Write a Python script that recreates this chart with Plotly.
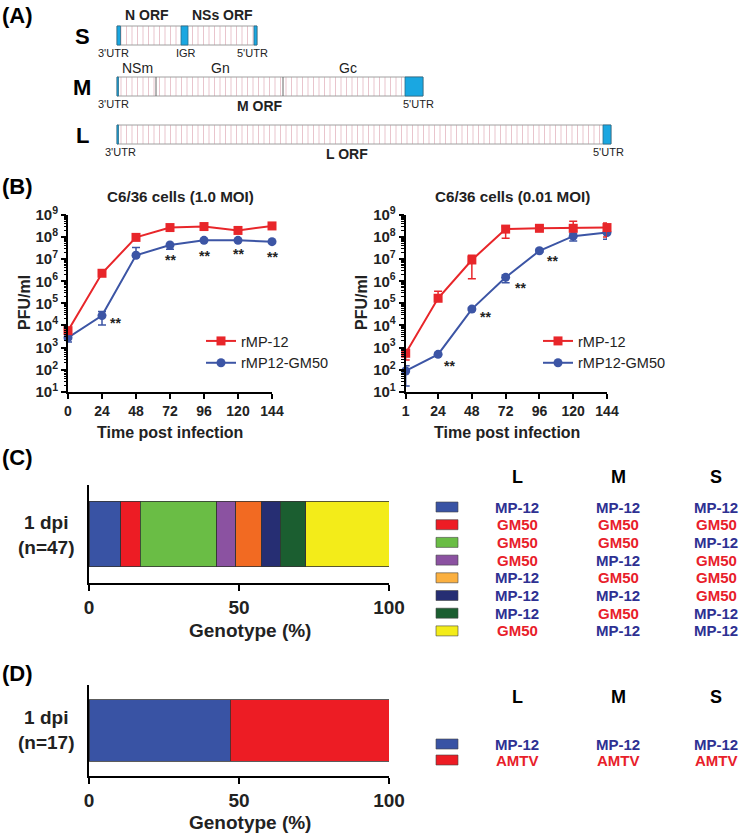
import numpy as np
import plotly.graph_objects as go

W, H = 739, 834
FONT = "Arial, 'Liberation Sans', Helvetica, sans-serif"

# ---------------- Panel A: genome schematic (schematic length units) ----------------
seg_names = ["S", "M", "L"]
seg_len = [140, 306, 494]
utr_seg = [0, 0, 0, 1, 1, 2, 2]
utr_start = [0, 64, 137, 0, 288, 0, 486]
utr_end = [3.5, 71, 140, 1.5, 306, 1.5, 494]
m_div = [39, 166]
top_labels = ["N ORF", "NSs ORF", "NSm", "Gn", "Gc"]
top_seg = [0, 0, 1, 1, 1]
top_pos = [30, 105, 20, 103, 231]
top_bold = [True, True, False, False, False]
bot_labels = ["3'UTR", "IGR", "5'UTR", "3'UTR", "M ORF", "5'UTR", "3'UTR", "L ORF", "5'UTR"]
bot_seg = [0, 0, 0, 1, 1, 1, 2, 2, 2]
bot_pos = [-4, 68.5, 135, -4, 143, 301, 3, 230, 491]
bot_bold = [False, False, False, False, True, False, False, True, False]

# ---------------- Panel B: growth curves ----------------
time_1 = [0, 24, 48, 72, 96, 120, 144]
mp12_1 = [5.8e3, 2.3e6, 9.7e7, 2.7e8, 3.0e8, 2.0e8, 3.2e8]
mp12_1_hi = [7.0e3, 2.6e6, 1.1e8, 3.1e8, 3.4e8, 2.3e8, 3.6e8]
mp12_1_lo = [4.6e3, 2.0e6, 8.5e7, 2.4e8, 2.7e8, 1.8e8, 2.9e8]
gm50_1 = [2.8e3, 2.8e4, 1.5e7, 4.4e7, 7.1e7, 7.1e7, 6.2e7]
gm50_1_hi = [3.4e3, 4.3e4, 3.4e7, 5.0e7, 7.8e7, 7.8e7, 6.8e7]
gm50_1_lo = [1.8e3, 1.05e4, 1.3e7, 2.8e7, 6.5e7, 6.5e7, 5.6e7]

time_2 = [1, 24, 48, 72, 96, 120, 144]
mp12_2 = [5.5e2, 1.7e5, 9.2e6, 2.3e8, 2.5e8, 2.5e8, 2.7e8]
mp12_2_hi = [7.0e2, 3.5e5, 1.5e7, 2.9e8, 2.9e8, 5.2e8, 4.3e8]
mp12_2_lo = [2.7e2, 1.3e5, 1.3e6, 8.8e7, 2.2e8, 1.9e8, 1.0e8]
gm50_2 = [87, 4.9e2, 5.5e4, 1.5e6, 2.4e7, 1.1e8, 1.6e8]
gm50_2_hi = [1.5e2, 5.5e2, 6.5e4, 1.9e6, 2.8e7, 1.5e8, 2.3e8]
gm50_2_lo = [18, 4.3e2, 4.7e4, 8.5e5, 2.1e7, 6.6e7, 8.0e7]

sig1_idx = [1, 3, 4, 5, 6]
sig2_idx = [1, 2, 3, 4]

y_tickvals = [10 ** k for k in range(1, 10)]
y_ticktext = ["10<sup>%d</sup>" % k for k in range(1, 10)]

# ---------------- Panel C / D: genotype composition ----------------
c_pct = [10.6, 6.4, 25.5, 6.4, 8.5, 6.4, 8.5, 27.7]
c_bar_colors = ["#3953a4", "#ed1c24", "#6abd45", "#8b52a1", "#f26a22", "#262e73", "#1b5e30", "#f3ec19"]
c_key_colors = ["#3953a4", "#ed1c24", "#6abd45", "#8b52a1", "#fbb040", "#262e73", "#1b5e30", "#f3ec19"]
c_L = ["MP-12", "GM50", "GM50", "GM50", "MP-12", "MP-12", "MP-12", "GM50"]
c_M = ["MP-12", "GM50", "GM50", "MP-12", "GM50", "MP-12", "GM50", "MP-12"]
c_S = ["MP-12", "GM50", "MP-12", "GM50", "GM50", "GM50", "MP-12", "MP-12"]

d_pct = [47.1, 52.9]
d_colors = ["#3953a4", "#ed1c24"]
d_L = ["MP-12", "AMTV"]
d_M = ["MP-12", "AMTV"]
d_S = ["MP-12", "AMTV"]

genotype_text_color = {"MP-12": "#2e3192", "GM50": "#e8202a", "AMTV": "#e8202a"}


def px(x):
    return x / W


def py(y):
    return 1 - y / H


RED = "#e8262a"
BLUE = "#3c55a5"
TXT = "#222222"

fig = go.Figure()
shapes = []
ann = []


def note(text, x, y, size, bold=True, color=TXT, xref="paper", yref="paper", **kw):
    d = dict(text=text, x=x, y=y, xref=xref, yref=yref, showarrow=False,
             xanchor=kw.pop("xanchor", "center"), yanchor=kw.pop("yanchor", "middle"),
             font=dict(size=size, family=FONT, color=color, weight="bold" if bold else "normal"))
    d.update(kw)
    ann.append(d)


# ---- Panel A drawing ----
seg_top = [26, 77, 125]
box_h = 19
hx, hy = [], []
for i, L in enumerate(seg_len):
    t = seg_top[i]
    for xv in np.arange(4, L, 5.5):
        hx += [xv, xv, None]
        hy += [t, t + box_h, None]
fig.add_trace(go.Scatter(x=hx, y=hy, mode="lines", line=dict(color="rgba(200,110,130,0.5)", width=0.8),
                         hoverinfo="skip", showlegend=False, xaxis="x", yaxis="y"))
for i, L in enumerate(seg_len):
    t = seg_top[i]
    shapes.append(dict(type="rect", xref="x", yref="y", x0=0, x1=L, y0=t, y1=t + box_h,
                       line=dict(color="#a0a0a0", width=1)))
    note(seg_names[i], -35, t + box_h / 2 + 1, 22, True, "black", "x", "y")
for d in m_div:
    t = seg_top[1]
    shapes.append(dict(type="line", xref="x", yref="y", x0=d, x1=d, y0=t, y1=t + box_h,
                       line=dict(color="#666666", width=1)))
for s, a, b in zip(utr_seg, utr_start, utr_end):
    t = seg_top[s]
    shapes.append(dict(type="rect", xref="x", yref="y", x0=a, x1=b, y0=t, y1=t + box_h,
                       fillcolor="#1aa7e1", line=dict(color="#2a6d8a", width=0.8)))
top_label_y = [15, 68, 0]
for lab, s, p, b in zip(top_labels, top_seg, top_pos, top_bold):
    note(lab, p, top_label_y[s], 14, b, TXT, "x", "y")
for lab, s, p, b in zip(bot_labels, bot_seg, bot_pos, bot_bold):
    yy = seg_top[s] + box_h + (10 if b else 8)
    note(lab, p, yy, 14 if b else 11, b, TXT, "x", "y")


# ---- Panel B ----
def series(t, y, hi, lo, color, symbol, name, xa, ya, leg, rank):
    return go.Scatter(
        x=t, y=y, mode="lines+markers", name=name, legendrank=rank,
        line=dict(color=color, width=2), marker=dict(color=color, symbol=symbol, size=9),
        error_y=dict(type="data", symmetric=False, array=[h - v for h, v in zip(hi, y)],
                     arrayminus=[v - l for v, l in zip(y, lo)], color=color, thickness=1.5, width=4),
        xaxis=xa, yaxis=ya, legend=leg, cliponaxis=False)


fig.add_trace(series(time_1, gm50_1, gm50_1_hi, gm50_1_lo, BLUE, "circle", "rMP12-GM50", "x2", "y2", "legend", 2))
fig.add_trace(series(time_1, mp12_1, mp12_1_hi, mp12_1_lo, RED, "square", "rMP-12", "x2", "y2", "legend", 1))
fig.add_trace(series(time_2, gm50_2, gm50_2_hi, gm50_2_lo, BLUE, "circle", "rMP12-GM50", "x3", "y3", "legend2", 2))
fig.add_trace(series(time_2, mp12_2, mp12_2_hi, mp12_2_lo, RED, "square", "rMP-12", "x3", "y3", "legend2", 1))

sig1_dx = [13, 0, 0, 0, 0]
sig1_dy = [-7, -15, -16, -14, -15]
for i, dx, dy in zip(sig1_idx, sig1_dx, sig1_dy):
    note("**", time_1[i], np.log10(gm50_1[i]), 14, True, TXT, "x2", "y2", xshift=dx, yshift=dy)
sig2_dx = [11, 14, 15, 13]
sig2_dy = [-12, -8, -11, -10]
for i, dx, dy in zip(sig2_idx, sig2_dx, sig2_dy):
    note("**", time_2[i], np.log10(gm50_2[i]), 14, True, TXT, "x3", "y3", xshift=dx, yshift=dy)

for cx, title in [(180, "C6/36 cells (1.0 MOI)"), (512, "C6/36 cells (0.01 MOI)")]:
    note(title, px(cx), py(197), 15.2)
for cx in [25, 362]:
    note("PFU/ml", px(cx), py(303), 16, textangle=-90)
for cx in [170, 507]:
    note("Time post infection", px(cx), py(432), 16)

# ---- Panel C / D bars ----
for v, c in zip(c_pct, c_bar_colors):
    fig.add_trace(go.Bar(x=[v], y=[0], orientation="h", width=0.673, showlegend=False,
                         marker=dict(color=c, line=dict(color="#333", width=0.8)), xaxis="x4", yaxis="y4"))
for v, c in zip(d_pct, d_colors):
    fig.add_trace(go.Bar(x=[v], y=[0], orientation="h", width=0.68, showlegend=False,
                         marker=dict(color=c, line=dict(color="#333", width=0.8)), xaxis="x5", yaxis="y5"))

for ycen, n in [(535, "(n=47)"), (730, "(n=17)")]:
    note("1 dpi<br>" + n, px(46), py(ycen), 19, align="center")
for yy in [630, 822]:
    note("Genotype (%)", px(250), py(yy), 19)

col_x = [517, 618, 716]


def key_table(header_y, row_y0, row_dy, colors, Ls, Ms, Ss):
    for lab, cx in zip(["L", "M", "S"], col_x):
        note(lab, px(cx), py(header_y), 18, True, "black")
    for r, c in enumerate(colors):
        yy = row_y0 + r * row_dy
        shapes.append(dict(type="rect", xref="paper", yref="paper", x0=px(436), x1=px(458),
                           y0=py(yy - 5), y1=py(yy + 5), fillcolor=c, line=dict(color="#444", width=0.6)))
        for vals, cx in zip([Ls, Ms, Ss], col_x):
            g = vals[r]
            note(g, px(cx), py(yy), 15, True, genotype_text_color[g])


key_table(477, 507, 17.7, c_key_colors, c_L, c_M, c_S)
key_table(697, 744, 16, d_colors, d_L, d_M, d_S)

for lab, yy in zip(["(A)", "(B)", "(C)", "(D)"], [15, 187, 457, 673]):
    note(lab, px(0), py(yy), 22, True, "black", xanchor="left")

axis_common = dict(showline=True, linecolor="black", linewidth=2, ticks="outside", tickcolor="black",
                   tickwidth=2, showgrid=False, zeroline=False, fixedrange=True, automargin=False)
tick14 = dict(size=14, family=FONT, color=TXT, weight="bold")
tick19 = dict(size=19, family=FONT, color=TXT, weight="bold")
tick15 = dict(size=15, family=FONT, color=TXT, weight="bold")
minor_vals = [m * 10 ** k for k in range(1, 9) for m in range(2, 10)]
ylog = dict(axis_common, type="log", range=[1, 9], tickvals=y_tickvals, ticktext=y_ticktext, ticklen=5,
            tickfont=tick15, minor=dict(tickvals=minor_vals, ticks="outside", ticklen=2.5, tickwidth=1,
                                        tickcolor="black"))
yB = [py(391.7), py(215)]

legend_common = dict(bgcolor="rgba(0,0,0,0)", font=dict(size=14.5, family=FONT, color=TXT),
                     xanchor="left", yanchor="top", tracegroupgap=0, itemwidth=30, traceorder="normal")

fig.update_layout(
    width=W, height=H, margin=dict(l=0, r=0, t=0, b=0, pad=0, autoexpand=False), autosize=False,
    paper_bgcolor="white", plot_bgcolor="rgba(0,0,0,0)", barmode="stack",
    font=dict(family=FONT),
    xaxis=dict(domain=[0, 1], range=[-117, 622], visible=False, fixedrange=True, anchor="y"),
    yaxis=dict(domain=[py(170), 1], range=[170, 0], visible=False, fixedrange=True, anchor="x"),
    xaxis2=dict(axis_common, domain=[px(68), px(272)], range=[0, 144], tickvals=time_1, ticklen=5,
                tickfont=tick14, anchor="y2"),
    yaxis2=dict(ylog, domain=yB, anchor="x2"),
    xaxis3=dict(axis_common, domain=[px(405.7), px(607)], range=[1, 144], tickvals=time_2, ticklen=5,
                tickfont=tick14, anchor="y3"),
    yaxis3=dict(ylog, domain=yB, anchor="x3"),
    xaxis4=dict(axis_common, domain=[px(89), px(389)], range=[0, 100], tickvals=[0, 50, 100], ticklen=6,
                tickfont=tick19, anchor="y4"),
    yaxis4=dict(axis_common, domain=[py(583), py(485)], range=[-0.5, 0.5], ticks="", showticklabels=False,
                anchor="x4"),
    xaxis5=dict(axis_common, domain=[px(89), px(389)], range=[0, 100], tickvals=[0, 50, 100], ticklen=6,
                tickfont=tick19, anchor="y5"),
    yaxis5=dict(axis_common, domain=[py(776), py(685)], range=[-0.5, 0.5], ticks="", showticklabels=False,
                anchor="x5"),
    legend=dict(legend_common, x=px(201), y=py(325)),
    legend2=dict(legend_common, x=px(538), y=py(325)),
    shapes=shapes, annotations=ann, showlegend=True,
)

fig.write_html("out.html", config={"displayModeBar": False},
               post_script="document.body.style.margin='0';document.body.style.overflow='hidden';")
